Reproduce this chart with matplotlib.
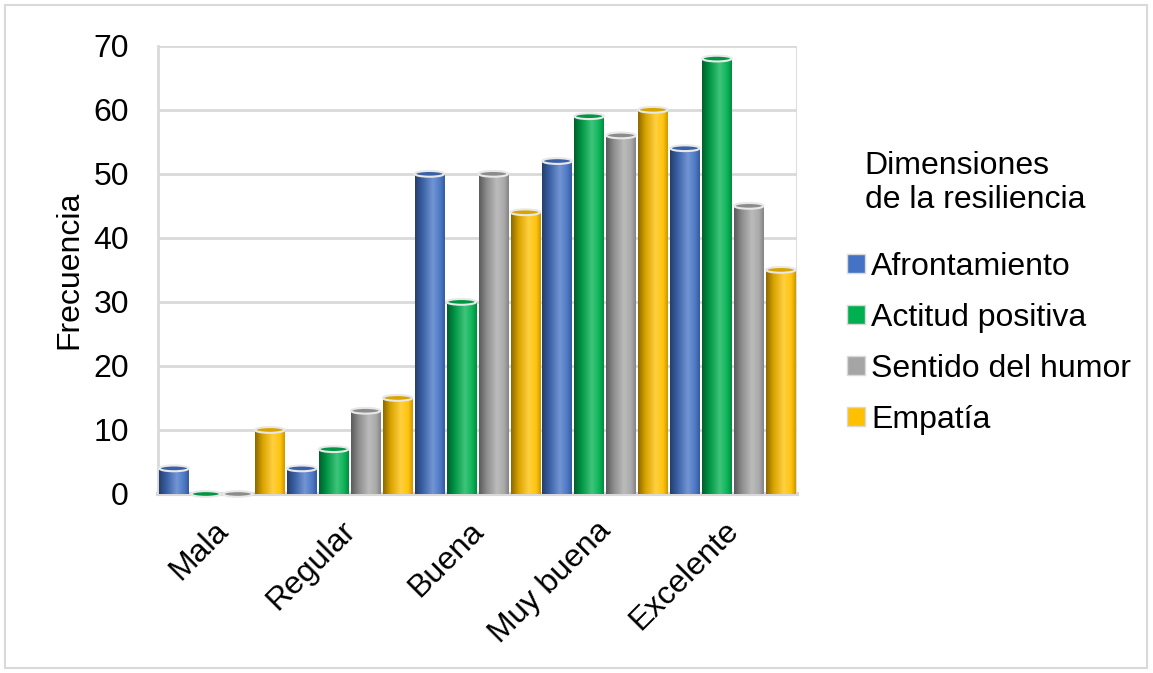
import numpy as np
import matplotlib.pyplot as plt
import matplotlib.transforms as mtransforms
from matplotlib.patches import Ellipse, Rectangle, Patch
from matplotlib.colors import LinearSegmentedColormap, to_rgb

plt.rcParams['font.family'] = ['Liberation Sans', 'DejaVu Sans']

categories = ['Mala', 'Regular', 'Buena', 'Muy buena', 'Excelente']
series = ['Afrontamiento', 'Actitud positiva', 'Sentido del humor', 'Empatía']
afrontamiento = [4, 4, 50, 52, 54]
actitud = [0, 7, 30, 59, 68]
humor = [0, 13, 50, 56, 45]
empatia = [10, 15, 44, 60, 35]
values = [afrontamiento, actitud, humor, empatia]
colors = ['#4472C4', '#00B050', '#A5A5A5', '#FFC000']
yticks = [0, 10, 20, 30, 40, 50, 60, 70]

FS = 23


def shade(c, f):
    r = np.array(to_rgb(c))
    if f < 1:
        return tuple(r * f)
    return tuple(r + (1 - r) * (f - 1))


def cylinder_cmap(c):
    # dark left edge, highlight around 60%, slightly darker right edge
    stops = [(0.0, shade(c, 0.55)), (0.25, shade(c, 0.85)), (0.6, shade(c, 1.25)),
             (0.85, shade(c, 1.05)), (1.0, shade(c, 0.8))]
    return LinearSegmentedColormap.from_list('cyl', stops)


fig = plt.figure(figsize=(11.53, 6.73), dpi=100)
ax = fig.add_axes([0.137, 0.266, 0.554, 0.666])

n_series = len(series)
width = 1.0 / n_series
cap_h = 0.9
grad = np.linspace(0, 1, 64).reshape(1, -1)

for j, (vals, col) in enumerate(zip(values, colors)):
    cmap = cylinder_cmap(col)
    for i, v in enumerate(vals):
        x0 = i - 0.5 + j * width + 0.01
        x1 = x0 + width - 0.02
        if v > 0:
            ax.imshow(grad, cmap=cmap, extent=(x0, x1, 0, v), aspect='auto',
                      interpolation='bicubic', zorder=3)
            ax.add_patch(Ellipse(((x0 + x1) / 2, 0), x1 - x0, cap_h,
                                 facecolor=shade(col, 0.75), edgecolor='none', zorder=2.9))
        ax.add_patch(Ellipse(((x0 + x1) / 2, v), x1 - x0, cap_h,
                             facecolor=shade(col, 0.85), edgecolor='#e8e8e8',
                             linewidth=1.5, zorder=4, clip_on=False))

ax.set_xlim(-0.5, len(categories) - 0.5)
ax.set_ylim(0, 70)
ax.set_yticks(yticks)
ax.set_yticklabels([str(t) for t in yticks], fontsize=FS)
ax.set_xticks(range(len(categories)))
ax.set_xticklabels(categories, fontsize=FS, rotation=45, ha='right',
                   rotation_mode='anchor')
ax.tick_params(axis='both', length=0)
ax.tick_params(axis='y', pad=21)
ax.tick_params(axis='x', pad=20)
# nudge rotated category labels up-left a little
offset = mtransforms.ScaledTranslation(-9 / 100, 6 / 100, fig.dpi_scale_trans)
for lbl in ax.get_xticklabels():
    lbl.set_transform(lbl.get_transform() + offset)
ax.set_ylabel('Frecuencia', fontsize=FS, labelpad=6)

ax.grid(axis='y', color='#d9d9d9', linewidth=2, zorder=0)
ax.set_axisbelow(True)
for s in ['top', 'right']:
    ax.spines[s].set_visible(False)
ax.spines['left'].set_color('#d9d9d9')
ax.spines['left'].set_linewidth(2)
ax.spines['bottom'].set_color('#d9d9d9')
ax.spines['bottom'].set_linewidth(3)
ax.axvline(len(categories) - 0.5, color='#d9d9d9', linewidth=2, zorder=0)

# legend title drawn separately so it sits indented like the original
fig.text(0.750, 0.728, 'Dimensiones\nde la resiliencia', fontsize=FS,
         ha='left', va='center', linespacing=1.15)
handles = [Patch(facecolor=c, edgecolor='#d9d9d9', linewidth=1) for c in colors]
fig.legend(handles, series, loc='upper left', bbox_to_anchor=(0.735, 0.626),
           frameon=False, fontsize=FS, handlelength=0.55, handleheight=0.55,
           handletextpad=0.2, labelspacing=0.66, borderaxespad=0, borderpad=0)

fig.patches.append(Rectangle((0.004, 0.007), 0.991, 0.986, transform=fig.transFigure,
                             fill=False, edgecolor='#d9d9d9', linewidth=1.5))

fig.savefig('out.png', dpi=100)
